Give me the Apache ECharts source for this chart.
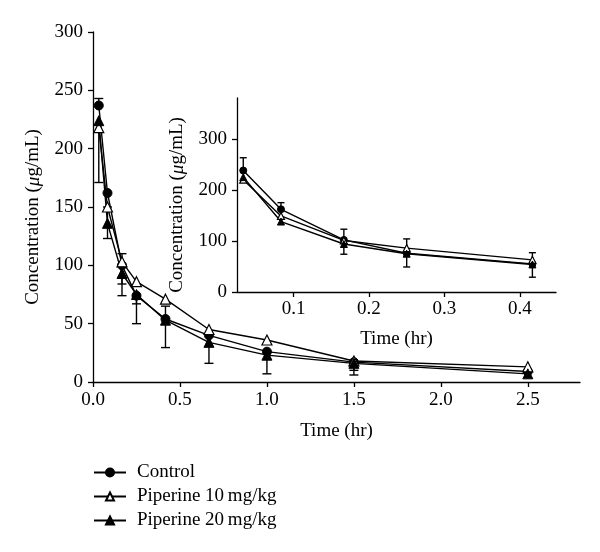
<!DOCTYPE html>
<html>
<head>
<meta charset="utf-8">
<script src="https://cdn.jsdelivr.net/npm/echarts@6/dist/echarts.min.js"></script>
<style>html,body{margin:0;padding:0;background:#fff;}#c{width:600px;height:552px;}</style>
</head>
<body>
<div id="c"></div>
<script>
// ---------- data ----------
const timeHr = [0.0333, 0.0833, 0.1667, 0.25, 0.4167, 0.6667, 1.0, 1.5, 2.5];
const control = [237, 162, 100, 74, 54, 40, 26, 17, 9];
const pip10 = [218, 150, 103, 86, 71, 45, 36, 18, 13];
const pip20 = [224, 136, 93, 75, 53, 34, 23, 16, 7];
// visible error-bar ends (main chart)
const controlErrLo = [null, null, 84, 50, 29.5, null, null, 10, null];
const controlErrHi = [243, null, null, null, 65, null, null, null, null];
const pip10ErrLo = [171, null, null, null, null, null, null, null, null];
const pip10ErrHi = [null, null, 110, null, null, null, null, null, null];
const pip20ErrLo = [null, 123, 74, 67, null, 16, 7, 6, null];
const pip20ErrHi = [null, 150, null, null, null, null, null, null, null];

// inset (first 25 min)
const insetTime = [0.0333, 0.0833, 0.1667, 0.25, 0.4167];
const insetControl = [238, 162, 102, 76, 55];
const insetPip10 = [220, 149, 101, 86, 63];
const insetPip20 = [225, 138, 94, 75, 54];
const insetErrLo = [null, null, 74, 49, 29];
const insetErrHi = [263, 175, 123, 104, 77];

// tick labels
const mainXTicks = [0, 0.5, 1.0, 1.5, 2.0, 2.5];
const mainYTicks = [0, 50, 100, 150, 200, 250, 300];
const insetXTicks = [0.1, 0.2, 0.3, 0.4];
const insetYTicks = [0, 100, 200, 300];

const seriesNames = ['Control', 'Piperine 10\u2009mg/kg', 'Piperine 20\u2009mg/kg'];

// ---------- helpers ----------
const FONT = 'Liberation Serif';
const FS = 19;
function pairs(xs, ys) { return xs.map((x, i) => [x, ys[i]]); }
function errData(xs, vals, ends) {
  const out = [];
  xs.forEach((x, i) => { if (ends[i] != null) out.push([x, vals[i], ends[i]]); });
  return out;
}
function errSeries(data, xi, yi, capW) {
  return {
    type: 'custom', xAxisIndex: xi, yAxisIndex: yi, z: 1, silent: true,
    clip: true,
    renderItem: function (params, api) {
      const p0 = api.coord([api.value(0), api.value(1)]);
      const p1 = api.coord([api.value(0), api.value(2)]);
      const st = { stroke: '#000', lineWidth: 1.4 };
      return { type: 'group', children: [
        { type: 'line', shape: { x1: p0[0], y1: p0[1], x2: p1[0], y2: p1[1] }, style: st },
        { type: 'line', shape: { x1: p1[0] - capW / 2, y1: p1[1], x2: p1[0] + capW / 2, y2: p1[1] }, style: st }
      ]};
    },
    data: data
  };
}
const symStyles = [
  { symbol: 'circle', symbolSize: 9, itemStyle: { color: '#000', borderColor: '#000', borderWidth: 1 } },
  { symbol: 'triangle', symbolSize: 10, itemStyle: { color: '#fff', borderColor: '#000', borderWidth: 1.2 } },
  { symbol: 'triangle', symbolSize: 10, itemStyle: { color: '#000', borderColor: '#000', borderWidth: 1 } }
];
function lineSeries(name, data, k, xi, yi) {
  return Object.assign({
    name: name, type: 'line', xAxisIndex: xi, yAxisIndex: yi, data: data, z: 3,
    showAllSymbol: true,
    lineStyle: { color: '#000', width: 1.4 },
    emphasis: { disabled: true },
    animation: false
  }, symStyles[k]);
}
const axisCommon = {
  axisLine: { show: true, onZero: false, lineStyle: { color: '#000', width: 1.3 } },
  axisTick: { show: true, length: 5, inside: false, lineStyle: { color: '#000', width: 1.3 } },
  splitLine: { show: false },
  nameTextStyle: { fontFamily: FONT, fontSize: FS, color: '#000' }
};
const yName = 'Concentration ({i|\u03bc}g/mL)';
const richName = { i: { fontStyle: 'italic', fontFamily: FONT, fontSize: FS, color: '#000' } };
const labelStyle = { fontFamily: FONT, fontSize: FS, color: '#000' };

const option = {
  backgroundColor: '#fff',
  animation: false,
  legend: {
    orient: 'vertical', left: 88, top: 458, itemGap: 5,
    itemWidth: 32, itemHeight: 10,
    data: seriesNames,
    textStyle: { fontFamily: FONT, fontSize: FS, color: '#000', padding: [0, 0, 0, 6] }
  },
  grid: [
    { left: 93, top: 32, right: 20, bottom: 170, outerBoundsMode: 'none', containLabel: false },
    { left: 237, top: 98, right: 44, bottom: 260, outerBoundsMode: 'none', containLabel: false }
  ],
  xAxis: [
    Object.assign({}, axisCommon, {
      gridIndex: 0, type: 'value', min: 0, max: 2.8,
      name: 'Time (hr)', nameLocation: 'middle', nameGap: 40,
      axisTick: Object.assign({}, axisCommon.axisTick, { customValues: mainXTicks }),
      axisLabel: Object.assign({ customValues: mainXTicks, margin: 9, formatter: v => v.toFixed(1) }, labelStyle)
    }),
    Object.assign({}, axisCommon, {
      gridIndex: 1, type: 'value', min: 0.025, max: 0.448,
      name: 'Time (hr)', nameLocation: 'middle', nameGap: 38,
      axisTick: Object.assign({}, axisCommon.axisTick, { customValues: insetXTicks }),
      axisLabel: Object.assign({ customValues: insetXTicks, margin: 8, formatter: v => v.toFixed(1) }, labelStyle)
    })
  ],
  yAxis: [
    Object.assign({}, axisCommon, {
      gridIndex: 0, type: 'value', min: 0, max: 300,
      name: yName, nameLocation: 'middle', nameGap: 50, nameRotate: 90,
      nameTextStyle: Object.assign({}, axisCommon.nameTextStyle, { rich: richName, padding: [0, 20, 0, 0] }),
      axisTick: Object.assign({}, axisCommon.axisTick, { customValues: mainYTicks }),
      axisLabel: Object.assign({ customValues: mainYTicks, margin: 10 }, labelStyle)
    }),
    Object.assign({}, axisCommon, {
      gridIndex: 1, type: 'value', min: 0, max: 380,
      name: yName, nameLocation: 'middle', nameGap: 50, nameRotate: 90,
      nameTextStyle: Object.assign({}, axisCommon.nameTextStyle, { rich: richName, padding: [0, 20, 0, 0] }),
      axisTick: Object.assign({}, axisCommon.axisTick, { customValues: insetYTicks }),
      axisLabel: Object.assign({ customValues: insetYTicks, margin: 10 }, labelStyle)
    })
  ],
  series: [
    lineSeries(seriesNames[0], pairs(timeHr, control), 0, 0, 0),
    lineSeries(seriesNames[1], pairs(timeHr, pip10), 1, 0, 0),
    lineSeries(seriesNames[2], pairs(timeHr, pip20), 2, 0, 0),
    errSeries(errData(timeHr, control, controlErrLo), 0, 0, 9),
    errSeries(errData(timeHr, control, controlErrHi), 0, 0, 9),
    errSeries(errData(timeHr, pip10, pip10ErrLo), 0, 0, 9),
    errSeries(errData(timeHr, pip10, pip10ErrHi), 0, 0, 9),
    errSeries(errData(timeHr, pip20, pip20ErrLo), 0, 0, 9),
    errSeries(errData(timeHr, pip20, pip20ErrHi), 0, 0, 9),
    lineSeries(seriesNames[0], pairs(insetTime, insetControl), 0, 1, 1),
    lineSeries(seriesNames[1], pairs(insetTime, insetPip10), 1, 1, 1),
    lineSeries(seriesNames[2], pairs(insetTime, insetPip20), 2, 1, 1),
    errSeries(errData(insetTime, insetControl, insetErrLo), 1, 1, 7),
    errSeries(errData(insetTime, insetControl, insetErrHi), 1, 1, 7)
  ]
};
// inset symbols slightly smaller
option.series.slice(9, 12).forEach(s => { s.symbolSize = 7; });
const chart = echarts.init(document.getElementById('c'), null, { renderer: 'canvas' });
chart.setOption(option);
</script>
</body>
</html>
